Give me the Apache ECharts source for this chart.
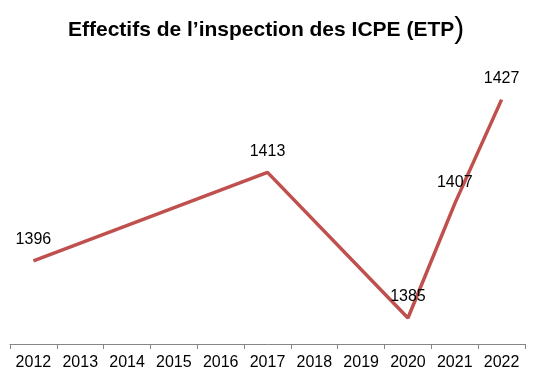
<!DOCTYPE html>
<html><head><meta charset="utf-8">
<script src="https://cdn.jsdelivr.net/npm/echarts@6/dist/echarts.min.js"></script>
<style>html,body{margin:0;padding:0;background:#fff}#c{width:536px;height:384px}</style>
</head><body><div id="c"></div>
<script>
var categories = ['2012','2013','2014','2015','2016','2017','2018','2019','2020','2021','2022'];
var effectifs = [1396, null, null, null, null, 1413, null, null, 1385, 1407, 1427];
var titleText = 'Effectifs de l\u2019inspection des ICPE (ETP';

var chart = echarts.init(document.getElementById('c'));
chart.setOption({
  animation: false,
  title: {
    text: '{a|' + titleText + '}{b|)}',
    left: 63,
    top: 10,
    textStyle: {
      rich: {
        a: {fontFamily: 'Liberation Sans', fontWeight: 'bold', fontSize: 21, color: '#000'},
        b: {fontFamily: 'Liberation Sans', fontWeight: 'normal', fontSize: 30, color: '#000'}
      }
    }
  },
  grid: {left: 10, right: 11, top: 32, bottom: 40, containLabel: false},
  xAxis: {
    type: 'category',
    data: categories,
    boundaryGap: true,
    axisLine: {lineStyle: {color: '#868686', width: 1}},
    axisTick: {show: true, length: 5, alignWithLabel: false, lineStyle: {color: '#868686'}},
    axisLabel: {color: '#000', fontFamily: 'Liberation Sans', fontSize: 16, margin: 11}
  },
  yAxis: {
    type: 'value', min: 1380, max: 1440,
    show: false, splitLine: {show: false}
  },
  series: [{
    type: 'line',
    data: effectifs,
    connectNulls: true,
    showSymbol: true,
    symbol: 'circle',
    symbolSize: 0,
    lineStyle: {color: '#C0504D', width: 3.5},
    itemStyle: {color: '#C0504D'},
    label: {
      show: true, position: 'top', distance: 13,
      color: '#000', fontFamily: 'Liberation Sans', fontSize: 16
    }
  }]
});
</script></body></html>
